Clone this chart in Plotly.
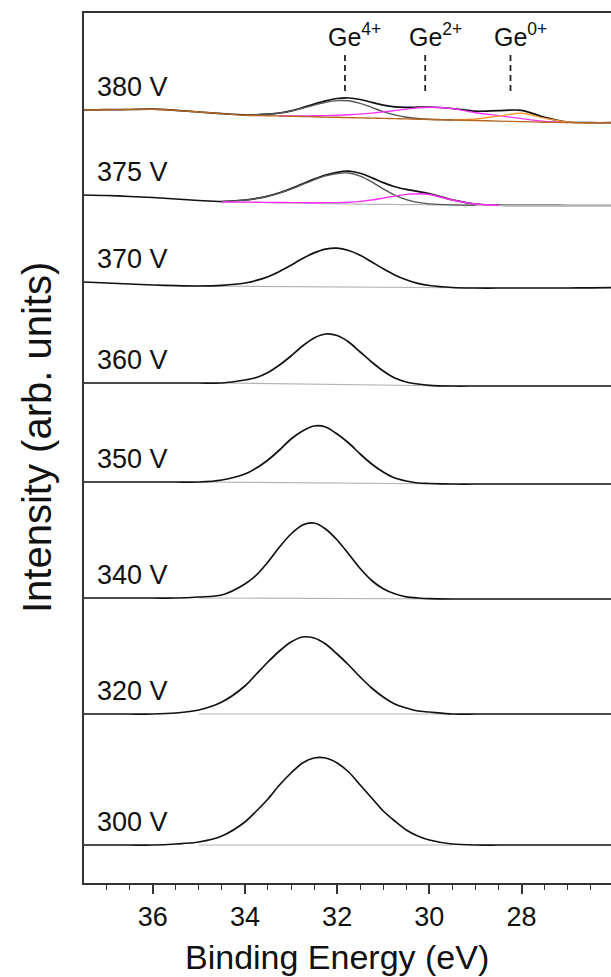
import plotly.graph_objects as go

# Binding energy grid (eV)
energy = [37.5, 37.0, 36.5, 36.0, 35.5, 35.0, 34.5, 34.0,
          33.75, 33.5, 33.25, 33.0, 32.75, 32.5, 32.25, 32.0,
          31.75, 31.5, 31.25, 31.0, 30.75, 30.5, 30.25, 30.0,
          29.5, 29.0, 28.5, 28.0, 27.5, 27.0, 26.5, 26.0]

voltages = ["300 V", "320 V", "340 V", "350 V", "360 V", "370 V", "375 V", "380 V"]
offsets = [38, 169, 285, 401, 500, 601, 688, 773]

i300 = [0, 0, 0, 0, 1, 3, 9, 23, 34, 46, 60, 72, 82, 87, 87, 82,
        73, 60, 47, 34, 24, 15, 9, 5, 1, 0, 0, 0, 0, 0, 0, 0]
i320 = [0, 0, 0, 0, 1, 4, 12, 28, 40, 52, 63, 72, 77, 76, 70, 60,
        49, 37, 26, 17, 10, 6, 3, 2, 0, 0, 0, 0, 0, 0, 0, 0]
i340 = [0, 0, 0, 0, 0, 1, 3, 14, 23, 36, 51, 64, 73, 75, 69, 58,
        44, 29.5, 17.5, 9.3, 4.2, 1.2, 0, -0.7, -1, -1, -1, -1, -1, -1, -1, -1]
i350 = [0, 0, 0, 0, 0, 0, 2, 8, 14, 22, 32, 43, 51, 56, 55, 48,
        39, 28, 18, 10, 4, 1, -1, -1.5, -2, -2, -2, -2, -2, -2, -2, -2]
i360 = [0, 0, 0, 0, 0, 0, 0, 3, 5.5, 10.5, 18, 27, 37, 45, 49, 47.5,
        41, 31, 21, 12, 5, 1, -1, -2.3, -3, -3, -3, -3, -3, -3, -3, -3]
i370 = [0, -1, -2, -3, -3.7, -4, -3.3, -1, 1.6, 5.3, 10.5, 16.8, 23.4, 29.1, 32.9, 33.8,
        31.5, 26.7, 20.1, 13.3, 7.1, 2.2, -1.3, -3.5, -5.5, -6, -6, -6, -6, -6, -5.8, -5.5]
i375 = [0, -0.5, -1.5, -2.5, -4, -5.5, -6.5, -5.0, -3.45, -1.1, 2.2, 6.4, 11.15, 15.9, 20.05, 22.7,
        23.8, 21.7, 17.4, 12.4, 8.3, 5.6, 3.6, 1.4, -4.9, -9.0, -10.2, -10.4, -10.4, -10.5, -10.5, -10.5]
i380 = [0, 0.3, 0.5, 0.8, -0.4, -2.0, -3.6, -4.9, -4.8, -4.2, -3.0, -0.8, 2.4, 5.9, 9.1, 11.5,
        12.0, 10.5, 7.7, 4.9, 3.1, 2.6, 2.8, 3.0, 1.5, -1.2, -0.6, -0.3, -7.4, -12.0, -12.7, -12.7]
spectra = [i300, i320, i340, i350, i360, i370, i375, i380]

# straight backgrounds for single-peak spectra: (E_start, E_end), (I_start, I_end)
bg_simple_e = [[35.0, 29.5], [35.0, 29.5], [35.0, 29.5], [35.0, 29.5], [34.5, 29.5], [35.2, 28.6]]
bg_simple_i = [[0, 0], [0, 0], [0, -1], [0, -2], [0, -3], [-4, -6]]

N = None
# 375 V fit components (incl. background)
g4_375 = [N]*6 + [-6.5, -5.1, -3.6, -1.3, 1.9, 6.0, 10.6, 15.2, 19.1, 21.5, 22.0, 18.9, 13.1, 6.1,
                  -0.1, -4.6, -7.4, -8.9, -9.9, -10.2] + [N]*6
g2_375 = [N]*6 + [-7.0, -7.1, -7.25, -7.4, -7.5, -7.6, -7.65, -7.7, -7.65, -7.6, -7.2, -6.4, -5.0,
                  -3.1, -1.1, 0.6, 1.3, 0.5, -5.0, -9.0, -10.2] + [N]*5
bg_375 = [N]*6 + [-7.0, -7.2, -7.4, -7.6, -7.8, -8.0, -8.2, -8.4, -8.6, -8.8, -9.0, -9.2, -9.3, -9.4,
                  -9.5, -9.6, -9.7, -9.8, -10.0, -10.2, -10.3, -10.4, -10.4, -10.5, -10.5, -10.5]

# 380 V fit components (incl. background)
bg_380 = [0, 0.3, 0.5, 0.8, -0.4, -2.0, -3.6, -5.2, -5.5, -5.7, -6.0, -6.3, -6.5, -6.8, -7.1, -7.3,
          -7.6, -7.9, -8.1, -8.4, -8.6, -8.9, -9.2, -9.5, -10.0, -10.5, -11.1, -11.6, -12.2, -12.6, -12.7, -12.7]
g4_380 = [N]*7 + [-4.9, -4.8, -4.2, -3.0, -1.1, 1.8, 4.9, 7.6, 9.4, 9.2, 6.7, 2.7, -1.6, -4.9,
                  -7.2, -8.5, -9.3, -10.0] + [N]*7
g2_380 = [N]*10 + [-6.0, -6.0, -5.9, -5.8, -5.6, -5.2, -4.8, -4.1, -3.1, -1.9, -0.6, 0.9, 2.1, 2.8,
                   1.4, -2.7, -5.6, -8.6, -11.4, -12.5] + [N]*2
g0_380 = [N]*24 + [-9.9, -9.0, -6.1, -3.3, -8.2, -12.1, -12.7] + [N]

ge_energy = [31.83, 30.09, 28.24]
ge_labels = ["Ge<sup>4+</sup>", "Ge<sup>2+</sup>", "Ge<sup>0+</sup>"]
ge_line_y = [792, 828]
ge_label_y = 830

FONT = "Liberation Sans, Arial, Helvetica, sans-serif"
BLACK = "#111111"
LIGHT = "#b4b4b4"
DARK = "#555555"
MAGENTA = "#ff30ff"
ORANGE = "#ff9933"
BROWN = "#b8651e"


def shift(vals, off):
    return [None if v is None else v + off for v in vals]


fig = go.Figure()

for k, (name, off, vals) in enumerate(zip(voltages, offsets, spectra)):
    if k < len(bg_simple_e):
        fig.add_trace(go.Scatter(x=bg_simple_e[k], y=shift(bg_simple_i[k], off), mode="lines",
                                 line=dict(color=LIGHT, width=1.2), hoverinfo="skip"))
    fig.add_trace(go.Scatter(x=energy, y=shift(vals, off), mode="lines", name=name,
                             line=dict(color=BLACK, width=1.7, shape="spline", smoothing=0.8)))
    if name == "375 V":
        fig.add_trace(go.Scatter(x=energy, y=shift(bg_375, off), mode="lines",
                                 line=dict(color=LIGHT, width=1.2, shape="spline", smoothing=0.8)))
        fig.add_trace(go.Scatter(x=energy, y=shift(g4_375, off), mode="lines",
                                 line=dict(color=DARK, width=1.4, shape="spline", smoothing=0.8)))
        fig.add_trace(go.Scatter(x=energy, y=shift(g2_375, off), mode="lines",
                                 line=dict(color=MAGENTA, width=1.4, shape="spline", smoothing=0.8)))
    if name == "380 V":
        fig.add_trace(go.Scatter(x=energy, y=shift(g4_380, off), mode="lines",
                                 line=dict(color=DARK, width=1.4, shape="spline", smoothing=0.8)))
        fig.add_trace(go.Scatter(x=energy, y=shift(g2_380, off), mode="lines",
                                 line=dict(color=MAGENTA, width=1.4, shape="spline", smoothing=0.8)))
        fig.add_trace(go.Scatter(x=energy, y=shift(g0_380, off), mode="lines",
                                 line=dict(color=ORANGE, width=1.4, shape="spline", smoothing=0.8)))
        fig.add_trace(go.Scatter(x=energy, y=shift(bg_380, off), mode="lines",
                                 line=dict(color=BROWN, width=1.4, shape="spline", smoothing=0.8)))
    fig.add_annotation(x=37.25, y=off + 23, text=name, showarrow=False, xanchor="left",
                       yanchor="middle", font=dict(family=FONT, size=27, color=BLACK))

for e, lab in zip(ge_energy, ge_labels):
    fig.add_trace(go.Scatter(x=[e, e], y=ge_line_y, mode="lines",
                             line=dict(color="#222222", width=1.8, dash="6px,4px")))
    fig.add_annotation(x=e, y=ge_label_y, text=lab, showarrow=False, xanchor="center",
                       yanchor="bottom", xshift=10, font=dict(family=FONT, size=25, color=BLACK))

# axis titles
fig.add_annotation(xref="paper", yref="paper", x=0, xshift=-47, y=0.5115, text="Intensity (arb. units)",
                   textangle=-90, showarrow=False, xanchor="center", yanchor="middle",
                   font=dict(family=FONT, size=40, color=BLACK))
fig.add_annotation(xref="paper", yref="paper", x=0.481, y=0, yshift=-74, text="Binding Energy (eV)",
                   showarrow=False, xanchor="center", yanchor="middle",
                   font=dict(family=FONT, size=34, color=BLACK))

fig.update_layout(
    width=611, height=977,
    margin=dict(l=84, r=0, t=13, b=94),
    paper_bgcolor="white", plot_bgcolor="white",
    showlegend=False,
    font=dict(family=FONT, color=BLACK),
    xaxis=dict(range=[37.49, 26.06], tickmode="array", tickvals=[36, 34, 32, 30, 28],
               ticks="outside", ticklen=9, tickwidth=1.5, tickcolor="#333333",
               minor=dict(dtick=0.5, tick0=0, ticks="outside", ticklen=5, tickwidth=1.3, tickcolor="#333333"),
               showline=True, linecolor="#333333", linewidth=1.5, mirror=True,
               showgrid=False, zeroline=False, tickfont=dict(family=FONT, size=27, color=BLACK)),
    yaxis=dict(range=[0, 870], showticklabels=False, ticks="", showline=True,
               linecolor="#333333", linewidth=1.5, showgrid=False, zeroline=False),
)

fig.write_html("out.html")
